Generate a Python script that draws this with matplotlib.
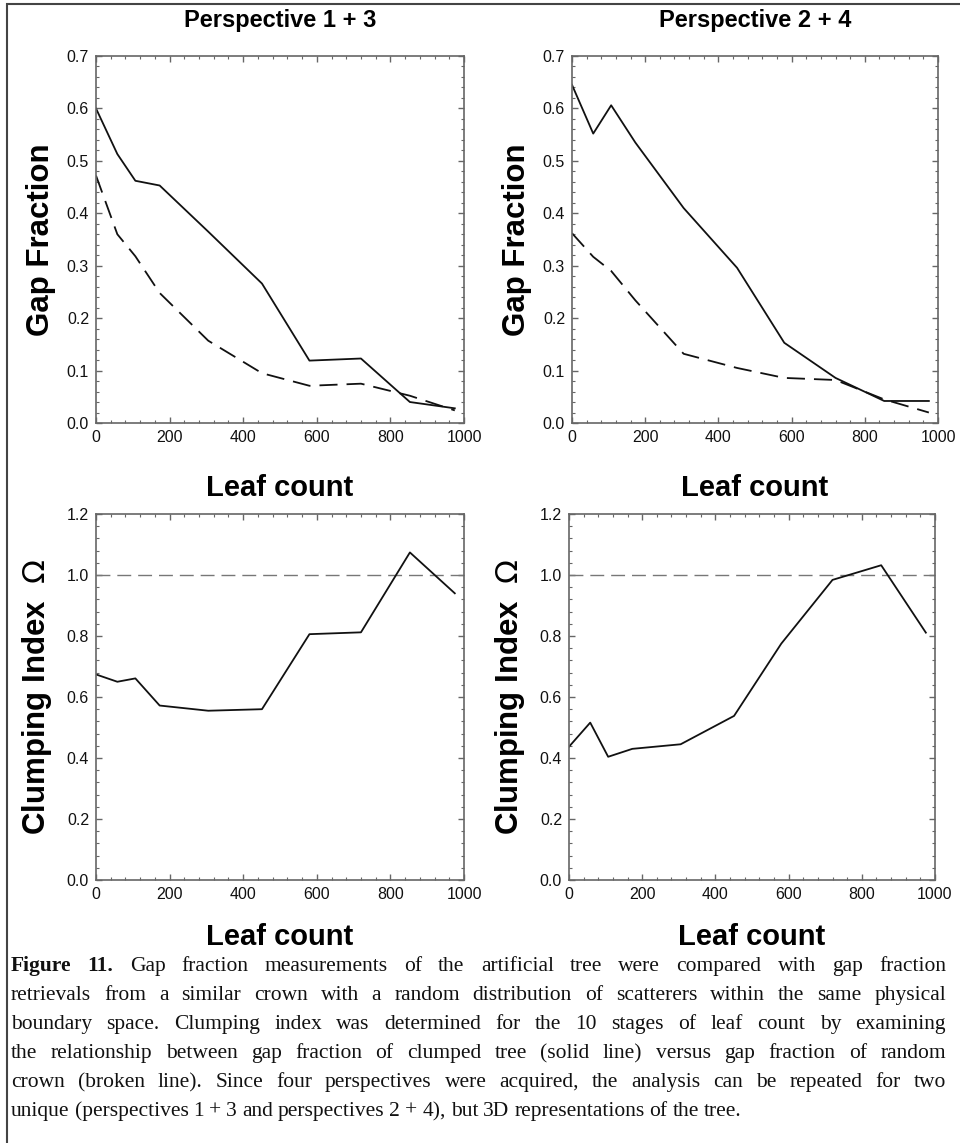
import matplotlib
matplotlib.use("Agg")
import matplotlib.pyplot as plt
from matplotlib.patches import Rectangle
from matplotlib.ticker import MultipleLocator, FormatStrFormatter

# --- données ---
leaf = [0, 58, 107, 173, 305, 451, 580, 720, 853, 975]

gf13_clumped = [0.600, 0.513, 0.462, 0.453, 0.365, 0.266, 0.119, 0.123, 0.040, 0.028]
gf13_random  = [0.472, 0.360, 0.318, 0.248, 0.157, 0.095, 0.071, 0.075, 0.052, 0.024]
gf24_clumped = [0.645, 0.552, 0.606, 0.535, 0.410, 0.296, 0.153, 0.086, 0.042, 0.042]
gf24_random  = [0.362, 0.317, 0.290, 0.234, 0.132, 0.105, 0.086, 0.082, 0.045, 0.020]

ci13 = [0.674, 0.650, 0.661, 0.572, 0.555, 0.560, 0.806, 0.812, 1.074, 0.940]
ci24 = [0.437, 0.516, 0.404, 0.430, 0.445, 0.538, 0.775, 0.984, 1.032, 0.811]

titres = ["Perspective 1 + 3", "Perspective 2 + 4"]

caption_lines = [
    "Figure 11. Gap fraction measurements of the artificial tree were compared with gap fraction",
    "retrievals from a similar crown with a random distribution of scatterers within the same physical",
    "boundary space. Clumping index was determined for the 10 stages of leaf count by examining",
    "the relationship between gap fraction of clumped tree (solid line) versus gap fraction of random",
    "crown (broken line). Since four perspectives were acquired, the analysis can be repeated for two",
    "unique (perspectives 1 + 3 and perspectives 2 + 4), but 3D representations of the tree.",
]

plt.rcParams["font.family"] = ["Liberation Sans", "DejaVu Sans"]
plt.rcParams["mathtext.fontset"] = "dejavusans"

W, H = 960, 1143
fig = plt.figure(figsize=(W / 100, H / 100), dpi=100)

# cadre autour de la figure (coupé à droite et en bas)
fig.patches.append(Rectangle((7 / W, -0.05), 1.1, 1 - 4 / H + 0.05,
                             transform=fig.transFigure, fill=False,
                             edgecolor="#444444", linewidth=1.5))


def px_axes(x0, y0, x1, y1):
    return fig.add_axes([x0 / W, 1 - y1 / H, (x1 - x0) / W, (y1 - y0) / H])


def style_axes(ax, ymax, ystep, yminor):
    ax.set_xlim(0, 1000)
    ax.set_ylim(0, ymax)
    ax.xaxis.set_major_locator(MultipleLocator(200))
    ax.xaxis.set_minor_locator(MultipleLocator(40))
    ax.yaxis.set_major_locator(MultipleLocator(ystep))
    ax.yaxis.set_minor_locator(MultipleLocator(yminor))
    ax.yaxis.set_major_formatter(FormatStrFormatter("%.1f"))
    ax.tick_params(which="both", direction="in", top=True, right=True,
                   color="#666666", labelsize=11.5, labelcolor="#111111")
    ax.tick_params(which="major", length=4.5, width=1, pad=5)
    ax.tick_params(which="minor", length=2.5, width=0.8)
    for sp in ax.spines.values():
        sp.set_color("#666666")
        sp.set_linewidth(1.2)


ax_tl = px_axes(96, 56, 464, 423)
ax_tr = px_axes(572, 56, 938, 423)
ax_bl = px_axes(96, 514, 464, 880)
ax_br = px_axes(569, 514, 935, 880)

ligne = dict(color="#111111", linewidth=1.3)
tirets = dict(color="#111111", linewidth=1.3, linestyle=(0, (10, 5)))

for ax, clumped, random_, titre in [(ax_tl, gf13_clumped, gf13_random, titres[0]),
                                    (ax_tr, gf24_clumped, gf24_random, titres[1])]:
    style_axes(ax, 0.7, 0.1, 0.02)
    ax.plot(leaf, random_, **tirets)
    ax.plot(leaf, clumped, **ligne)
    ax.set_title(titre, fontsize=17, fontweight="bold", pad=21)
    ax.text(0.5, -0.177, "Leaf count", transform=ax.transAxes, ha="center",
            va="center", fontsize=21, fontweight="bold")
    ax.text(-0.15, 0.5, "Gap Fraction", transform=ax.transAxes, ha="center",
            va="center", rotation=90, fontsize=22.5, fontweight="bold")

for ax, ci in [(ax_bl, ci13), (ax_br, ci24)]:
    style_axes(ax, 1.2, 0.2, 0.04)
    ax.axhline(1.0, color="#777777", linewidth=1.0, linestyle=(0, (10, 5)))
    ax.plot(leaf, ci, **ligne)
    ax.text(0.5, -0.155, "Leaf count", transform=ax.transAxes, ha="center",
            va="center", fontsize=21, fontweight="bold")
    ax.text(-0.16, 0.5, r"Clumping Index  $\Omega$", transform=ax.transAxes,
            ha="center", va="center", rotation=90, fontsize=22.5, fontweight="bold")

# --- légende justifiée ---
fig.canvas.draw()
renderer = fig.canvas.get_renderer()
x_gauche, x_droite = 11 / W, 946 / W
y0, dy = 971, 29
taille = 15.5
for i, line in enumerate(caption_lines):
    mots = line.split(" ")
    y = 1 - (y0 + i * dy) / H
    txts = []
    for j, mot in enumerate(mots):
        gras = (i == 0 and j < 2)
        t = fig.text(0, y, mot, fontsize=taille, family="Liberation Serif",
                     fontweight="bold" if gras else "normal", va="baseline",
                     color="#111111")
        txts.append(t)
    largeurs = [t.get_window_extent(renderer).width / W for t in txts]
    if i < len(caption_lines) - 1:
        espace = (x_droite - x_gauche - sum(largeurs)) / (len(mots) - 1)
    else:
        espace = 5 / W
    x = x_gauche
    for t, w in zip(txts, largeurs):
        t.set_x(x)
        x += w + espace

fig.savefig("out.png", dpi=100)
